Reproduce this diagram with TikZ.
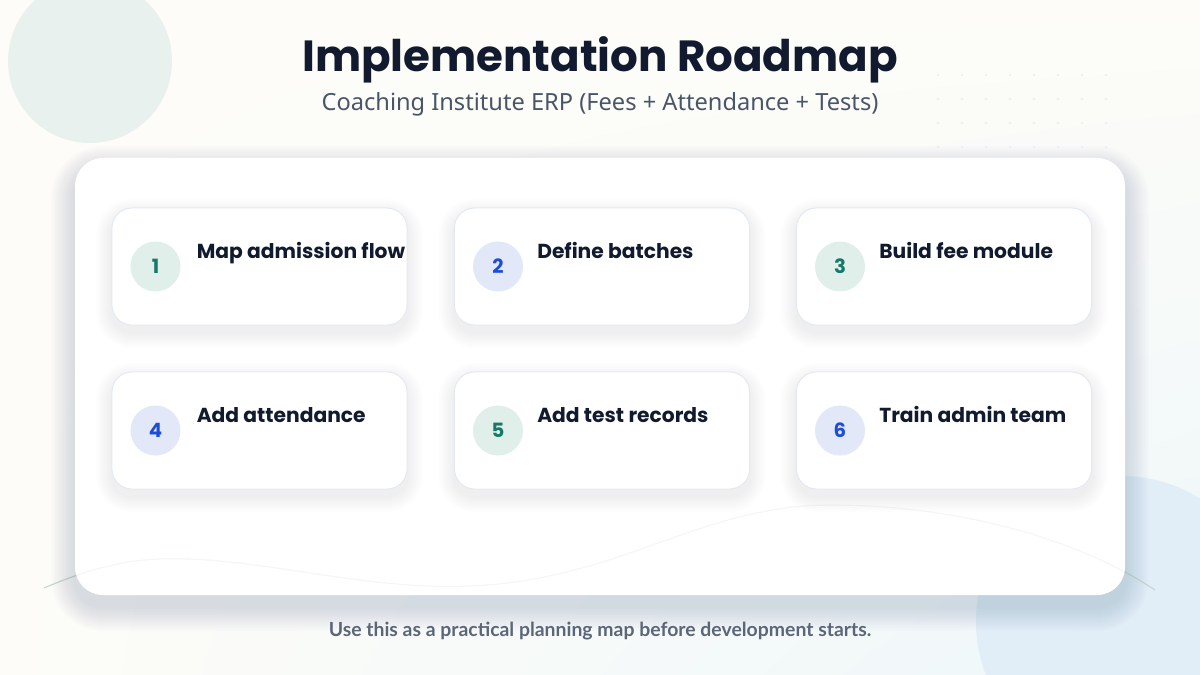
\documentclass[tikz,border=0pt]{standalone}
\usepackage{fontspec}
\setmainfont{Noto Sans}
\newfontfamily\headfont{Poppins}
\newfontfamily\notefont{Lato}
\usetikzlibrary{shadings}

\definecolor{inkdark}{HTML}{111A2E}
\definecolor{inkgrey}{HTML}{4A5568}
\definecolor{footgrey}{HTML}{5B6679}
\definecolor{cardline}{HTML}{E3E9F4}
\definecolor{tealsoft}{HTML}{E1EFEA}
\definecolor{tealink}{HTML}{16796A}
\definecolor{bluesoft}{HTML}{E3E8F9}
\definecolor{blueink}{HTML}{1D4ED8}
\definecolor{bgwarm}{HTML}{FDFCF8}
\definecolor{bgcool}{HTML}{EEF7FA}
\definecolor{blobgreen}{HTML}{E8F1EE}
\definecolor{blobblue}{HTML}{DDEBF7}
\definecolor{waveline}{HTML}{C6D7D3}
\definecolor{dotgrey}{HTML}{EAEDF0}
\definecolor{shadowink}{HTML}{1E3A5F}

\tikzset{
  card/.style={draw=cardline, line width=0.7pt, fill=white, rounded corners=0.5cm,
    minimum width=7.375cm, minimum height=2.925cm, inner sep=0pt},
  badge/.style={circle, minimum size=1.25cm, inner sep=0pt,
    font=\headfont\bfseries\fontsize{14}{16}\selectfont},
  tealbadge/.style={badge, fill=tealsoft, text=tealink},
  bluebadge/.style={badge, fill=bluesoft, text=blueink},
  steptitle/.style={anchor=base west, inner sep=0pt, text=inkdark,
    font=\headfont\bfseries\fontsize{14.4}{17}\selectfont},
}

\begin{document}
\begin{tikzpicture}[x=0.025cm, y=-0.025cm]

% Background
\useasboundingbox (0,0) rectangle (1200,675);
\shade[upper left=bgwarm, upper right=bgwarm, lower left=bgwarm, lower right=bgcool] (0,0) rectangle (1200,675);

% Soft blobs
\fill[blobgreen] (90,61) circle (82);
\fill[blobblue, fill opacity=0.75] (1122,622) circle (146);

% Dot grid
\foreach \i in {0,...,7}
  \foreach \j in {0,...,3}
    \fill[dotgrey] (938+24*\i, 75+24*\j) circle (1.2);

% Wave line
\draw[waveline, line width=0.8pt] (44,588) .. controls (110,560) and (150,556) .. (207,560)
  .. controls (290,566) and (380,590) .. (470,586)
  .. controls (620,580) and (700,505) .. (830,505)
  .. controls (960,505) and (1080,540) .. (1155,590);

% Main panel shadow
\foreach \k in {1,...,12}
  \fill[shadowink, fill opacity=0.01, rounded corners=0.7cm+0.05cm*\k]
    (75-2*\k,158+12-2*\k) rectangle (1125+2*\k,595+12+2*\k);

% Main panel
\fill[white, rounded corners=0.7cm] (75,158) rectangle (1125,595);
\begin{scope}
  \clip[rounded corners=0.7cm] (75,158) rectangle (1125,595);
  \draw[waveline, line width=0.8pt, opacity=0.2] (44,588) .. controls (110,560) and (150,556) .. (207,560)
    .. controls (290,566) and (380,590) .. (470,586)
    .. controls (620,580) and (700,505) .. (830,505)
    .. controls (960,505) and (1080,540) .. (1155,590);
\end{scope}

% Title and subtitle
\node[anchor=base, inner sep=0pt, text=inkdark, font=\headfont\bfseries\fontsize{31}{37}\selectfont]
  (title) at (600,72) {Implementation Roadmap};
\node[anchor=base, inner sep=0pt, text=inkgrey, font=\fontsize{16.8}{20}\selectfont]
  (subtitle) at (600,111) {Coaching Institute ERP (Fees + Attendance + Tests)};

% Card shadows
\foreach \cx/\cy in {259.5/266.5, 602/266.5, 944/266.5, 259.5/430.5, 602/430.5, 944/430.5}
  \foreach \k in {1,...,8}
    \fill[shadowink, fill opacity=0.008, rounded corners=0.5cm+0.05cm*\k]
      (\cx-147.5-2*\k,\cy-58.5+7-2*\k) rectangle (\cx+147.5+2*\k,\cy+58.5+7+2*\k);

% Step cards
\node[card] (card1) at (259.5,266.5) {};
\node[card] (card2) at (602,266.5) {};
\node[card] (card3) at (944,266.5) {};
\node[card] (card4) at (259.5,430.5) {};
\node[card] (card5) at (602,430.5) {};
\node[card] (card6) at (944,430.5) {};

% Badges
\node[tealbadge] (b1) at ([xshift=1.1cm]card1.west) {1};
\node[bluebadge] (b2) at ([xshift=1.1cm]card2.west) {2};
\node[tealbadge] (b3) at ([xshift=1.1cm]card3.west) {3};
\node[bluebadge] (b4) at ([xshift=1.1cm]card4.west) {4};
\node[tealbadge] (b5) at ([xshift=1.1cm]card5.west) {5};
\node[bluebadge] (b6) at ([xshift=1.1cm]card6.west) {6};

% Step titles
\node[steptitle] (t1) at ([xshift=2.125cm, yshift=0.21cm]card1.west) {Map admission flow};
\node[steptitle] (t2) at ([xshift=2.075cm, yshift=0.21cm]card2.west) {Define batches};
\node[steptitle] (t3) at ([xshift=2.075cm, yshift=0.21cm]card3.west) {Build fee module};
\node[steptitle] (t4) at ([xshift=2.125cm, yshift=0.21cm]card4.west) {Add attendance};
\node[steptitle] (t5) at ([xshift=2.075cm, yshift=0.21cm]card5.west) {Add test records};
\node[steptitle] (t6) at ([xshift=2.075cm, yshift=0.21cm]card6.west) {Train admin team};

% Footer note
\node[anchor=base, inner sep=0pt, text=footgrey, font=\notefont\bfseries\fontsize{13.8}{16}\selectfont]
  (footer) at (600,636) {Use this as a practical planning map before development starts.};

\end{tikzpicture}
\end{document}
